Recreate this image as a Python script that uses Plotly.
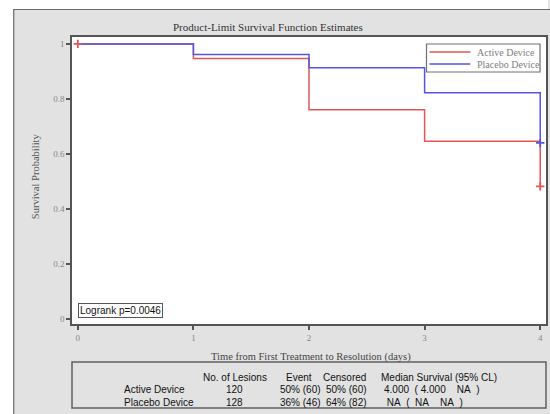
import plotly.graph_objects as go

# ---- data ----
times = [0, 1, 2, 3, 4]
active_surv = [1.0, 0.947, 0.761, 0.646, 0.482]
placebo_surv = [1.0, 0.961, 0.913, 0.822, 0.640]
censor_active_t = [0, 4]
censor_active_s = [1.0, 0.482]
censor_placebo_t = [4]
censor_placebo_s = [0.640]

x_ticks = [0, 1, 2, 3, 4]
y_ticks = [0, 0.2, 0.4, 0.6, 0.8, 1.0]

groups = ["Active Device", "Placebo Device"]
n_lesions = ["120", "128"]
event = ["50% (60)", "36% (46)"]
censored = ["50% (60)", "64% (82)"]
median = ["4.000\u00a0\u00a0( 4.000\u00a0\u00a0\u00a0\u00a0NA\u00a0\u00a0)",
          "\u00a0NA\u00a0\u00a0(\u00a0\u00a0NA\u00a0\u00a0\u00a0\u00a0NA\u00a0\u00a0)"]
headers = ["No. of Lesions", "Event", "Censored", "Median Survival (95% CL)"]

RED = "#e25555"
BLUE = "#5555e0"
SERIF = "Liberation Serif"
SANS = "Liberation Sans"

W, H = 550, 414
L, R, T, B = 72, 2, 37, 90
PW = W - L - R
PH = H - T - B


def px(xp):
    return (xp - L) / PW


def py(yp):
    return (H - B - yp) / PH


fig = go.Figure()
fig.add_trace(go.Scatter(x=times, y=active_surv, mode="lines", line=dict(color=RED, width=1.5, shape="hv"),
                         name="Active Device", showlegend=False))
fig.add_trace(go.Scatter(x=times, y=placebo_surv, mode="lines", line=dict(color=BLUE, width=1.5, shape="hv"),
                         name="Placebo Device", showlegend=False))
fig.add_trace(go.Scatter(x=censor_active_t, y=censor_active_s, mode="markers",
                         marker=dict(symbol="cross-thin", size=6, line=dict(color=RED, width=1.8)), showlegend=False))
fig.add_trace(go.Scatter(x=censor_placebo_t, y=censor_placebo_s, mode="markers",
                         marker=dict(symbol="cross-thin", size=6, line=dict(color=BLUE, width=1.8)), showlegend=False))

shapes = []
# white outside strips
shapes.append(dict(type="rect", xref="paper", yref="paper", x0=px(0), x1=px(W), y0=py(9), y1=py(-5),
                   fillcolor="white", line=dict(width=0), layer="below"))
shapes.append(dict(type="rect", xref="paper", yref="paper", x0=px(-5), x1=px(13), y0=py(H + 5), y1=py(-5),
                   fillcolor="white", line=dict(width=0), layer="below"))
# outer frame
shapes.append(dict(type="rect", xref="paper", yref="paper", x0=px(13.5), x1=px(W + 5), y0=py(H + 5), y1=py(9.5),
                   fillcolor="rgba(0,0,0,0)", line=dict(color="#6a6a6a", width=1.2), layer="below"))
# table box
shapes.append(dict(type="rect", xref="paper", yref="paper", x0=px(72), x1=px(548), y0=py(408), y1=py(362),
                   fillcolor="rgba(0,0,0,0)", line=dict(color="#606060", width=1.5)))
# legend box
shapes.append(dict(type="rect", xref="paper", yref="paper", x0=px(428), x1=px(542), y0=py(72), y1=py(44),
                   fillcolor="white", line=dict(color="#707070", width=1.2)))
shapes.append(dict(type="line", xref="paper", yref="paper", x0=px(431), x1=px(472), y0=py(52), y1=py(52),
                   line=dict(color=RED, width=1.5)))
shapes.append(dict(type="line", xref="paper", yref="paper", x0=px(431), x1=px(472), y0=py(64), y1=py(64),
                   line=dict(color=BLUE, width=1.5)))

ann = []
ann.append(dict(text="Product-Limit Survival Function Estimates", xref="paper", yref="paper",
                x=px(269), y=py(27), xanchor="center", yanchor="middle", showarrow=False,
                font=dict(family=SERIF, size=11, color="#333333")))
ann.append(dict(text="Survival Probability", xref="paper", yref="paper", x=px(35), y=py(176),
                xanchor="center", yanchor="middle", textangle=-90, showarrow=False,
                font=dict(family=SERIF, size=10.5, color="#555555")))
ann.append(dict(text="Time from First Treatment to Resolution (days)", xref="paper", yref="paper",
                x=px(312), y=py(357), xanchor="center", yanchor="middle", showarrow=False,
                font=dict(family=SERIF, size=10.5, color="#444444")))
ann.append(dict(text="Active Device", xref="paper", yref="paper", x=px(477), y=py(52), xanchor="left",
                yanchor="middle", showarrow=False, font=dict(family=SERIF, size=10, color="#808080")))
ann.append(dict(text="Placebo Device", xref="paper", yref="paper", x=px(477), y=py(64), xanchor="left",
                yanchor="middle", showarrow=False, font=dict(family=SERIF, size=10, color="#808080")))
ann.append(dict(text="Logrank p=0.0046", xref="paper", yref="paper", x=px(78), y=py(318), xanchor="left",
                yanchor="bottom", showarrow=False, bgcolor="white", bordercolor="#555555", borderwidth=1,
                borderpad=1, font=dict(family=SANS, size=10, color="#111111")))

# table
tfont = dict(family=SANS, size=10, color="#111111")
col_x = [px(236), px(300), px(346), px(380)]
col_anchor = ["center", "center", "center", "left"]
for hx, ha, h in zip(col_x, col_anchor, headers):
    ann.append(dict(text=h, xref="paper", yref="paper", x=hx, y=py(377), xanchor=ha, yanchor="middle",
                    showarrow=False, font=tfont))
row_y = [py(389), py(402)]
val_x = [px(235), px(301), px(348), px(383)]
for i, g in enumerate(groups):
    ann.append(dict(text=g, xref="paper", yref="paper", x=px(122), y=row_y[i], xanchor="left",
                    yanchor="middle", showarrow=False, font=tfont))
    for vx, va, v in zip(val_x, col_anchor, [n_lesions[i], event[i], censored[i], median[i]]):
        ann.append(dict(text=v, xref="paper", yref="paper", x=vx, y=row_y[i], xanchor=va, yanchor="middle",
                        showarrow=False, font=tfont))

axis_common = dict(showline=True, linecolor="#555555", linewidth=1.5, mirror=True, ticks="outside",
                   ticklen=4, tickwidth=1.5, tickcolor="#555555", showgrid=False, zeroline=False,
                   tickfont=dict(family=SERIF, size=9, color="#888888"))

fig.update_layout(
    width=W, height=H,
    margin=dict(l=L, r=R, t=T, b=B, pad=0),
    paper_bgcolor="#e2e2e2", plot_bgcolor="white",
    shapes=shapes, annotations=ann, showlegend=False,
    xaxis=dict(range=[-0.05, 4.05], tickvals=x_ticks, **axis_common),
    yaxis=dict(range=[-0.018, 1.025], tickvals=y_ticks, ticktext=[f"{v:g}" for v in y_ticks], **axis_common),
)

fig.write_html("out.html", config={"displayModeBar": False},
               post_script="document.body.style.margin='0';document.body.style.overflow='hidden';")
